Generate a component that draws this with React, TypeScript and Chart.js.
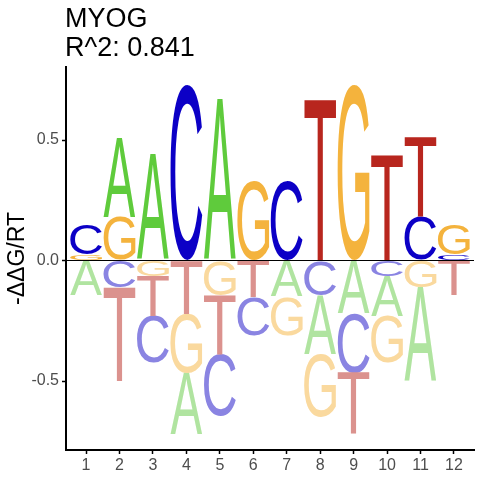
import React, { useEffect, useRef } from 'react';
import { Chart, registerables } from 'chart.js';

Chart.register(...registerables);

// ---------- data ----------
const titleLines = ['MYOG', 'R^2: 0.841'];
const yAxisTitle = '-ΔΔG/RT';
const positions = [1, 2, 3, 4, 5, 6, 7, 8, 9, 10, 11, 12];
const letters = ['A', 'C', 'G', 'T'];
const valuesA = [-0.144, 0.33, 0.44, -0.254, 0.67, 0, -0.15, -0.245, -0.22, -0.163, -0.39, 0];
const valuesC = [0.125, -0.11, -0.194, 0.73, -0.257, -0.16, 0.33, -0.143, -0.247, -0.067, 0.18, 0.025];
const valuesG = [0.025, 0.18, -0.067, -0.247, -0.143, 0.33, -0.16, -0.262, 0.73, -0.194, -0.11, 0.125];
const valuesT = [0, -0.39, -0.163, -0.22, -0.245, -0.15, 0, 0.67, -0.254, 0.44, 0.33, -0.144];
const yTicks = [-0.5, 0, 0.5];

const positiveColors: Record<string, string> = { A: '#5FCB3C', C: '#0C00C6', G: '#F4B33D', T: '#B8261E' };
const negativeColors: Record<string, string> = { A: '#B0E4A0', C: '#8A84E2', G: '#FAD99E', T: '#DB928E' };

const FONT = '"Liberation Sans", Arial, Helvetica, sans-serif';

const valueTable: Record<string, number[]> = { A: valuesA, C: valuesC, G: valuesG, T: valuesT };

// compute stacked letter ranges per position
function buildDatasets() {
  const data: Record<string, { x: number; y: [number, number] }[]> = { A: [], C: [], G: [], T: [] };
  const colors: Record<string, string[]> = { A: [], C: [], G: [], T: [] };
  positions.forEach((p, i) => {
    const entries = letters.map((l) => ({ l, v: valueTable[l][i] }));
    const pos = entries.filter((e) => e.v > 0).sort((a, b) => a.v - b.v);
    const neg = entries.filter((e) => e.v < 0).sort((a, b) => b.v - a.v);
    let acc = 0;
    pos.forEach((e) => {
      data[e.l].push({ x: p, y: [acc, acc + e.v] });
      colors[e.l].push(positiveColors[e.l]);
      acc += e.v;
    });
    acc = 0;
    neg.forEach((e) => {
      data[e.l].push({ x: p, y: [acc + e.v, acc] });
      colors[e.l].push(negativeColors[e.l]);
      acc += e.v;
    });
  });
  return letters.map((l) => ({
    label: l,
    data: data[l],
    glyphColors: colors[l],
    backgroundColor: 'rgba(0,0,0,0)',
    borderWidth: 0,
    grouped: false,
    categoryPercentage: 1,
    barPercentage: 0.95,
  }));
}

function drawGlyph(ctx: CanvasRenderingContext2D, letter: string, color: string, left: number, top: number, w: number, h: number) {
  ctx.save();
  ctx.font = `200px ${FONT}`;
  ctx.textAlign = 'left';
  ctx.textBaseline = 'alphabetic';
  const m = ctx.measureText(letter);
  const gw = m.actualBoundingBoxLeft + m.actualBoundingBoxRight;
  const gh = m.actualBoundingBoxAscent + m.actualBoundingBoxDescent;
  ctx.translate(left, top);
  ctx.scale(w / gw, h / gh);
  ctx.fillStyle = color;
  ctx.fillText(letter, m.actualBoundingBoxLeft, m.actualBoundingBoxAscent);
  ctx.restore();
}

const logoPlugin = {
  id: 'logoGlyphs',
  afterDatasetsDraw(chart: any) {
    const ctx = chart.ctx as CanvasRenderingContext2D;
    chart.data.datasets.forEach((ds: any, di: number) => {
      const meta = chart.getDatasetMeta(di);
      meta.data.forEach((el: any, j: number) => {
        const { x, y, base, width } = el.getProps(['x', 'y', 'base', 'width'], true);
        const top = Math.min(y, base);
        const bottom = Math.max(y, base);
        const h = bottom - top;
        if (h < 0.3) return;
        drawGlyph(ctx, ds.label, ds.glyphColors[j], x - width / 2, top, width, h);
      });
    });
  },
  afterDraw(chart: any) {
    const ctx = chart.ctx as CanvasRenderingContext2D;
    ctx.save();
    ctx.font = `27px ${FONT}`;
    ctx.fillStyle = '#000';
    ctx.textAlign = 'left';
    ctx.textBaseline = 'alphabetic';
    ctx.fillText(titleLines[0], 65, 26.5);
    ctx.fillText(titleLines[1], 65, 56);
    ctx.restore();
  },
};

export default function App() {
  const canvasRef = useRef<HTMLCanvasElement | null>(null);

  useEffect(() => {
    document.body.style.margin = '0';
    const canvas = canvasRef.current;
    if (!canvas) return;
    const chart = new Chart(canvas, {
      type: 'bar',
      data: { datasets: buildDatasets() as any },
      options: {
        animation: false,
        responsive: false,
        devicePixelRatio: 1,
        layout: { padding: { top: 67, right: 6, left: 0, bottom: 0 } },
        plugins: {
          legend: { display: false },
          tooltip: { enabled: false },
          title: { display: false },
        },
        scales: {
          x: {
            type: 'linear',
            min: 0.4,
            max: 12.6,
            offset: false,
            afterBuildTicks: (s: any) => {
              s.ticks = positions.map((v) => ({ value: v }));
            },
            afterFit: (s: any) => {
              s.height = 30;
            },
            grid: {
              offset: false,
              drawOnChartArea: false,
              drawTicks: true,
              tickLength: 4,
              tickColor: '#000',
              tickWidth: 1.5,
            },
            border: { display: true, color: '#000', width: 2 },
            ticks: {
              color: '#4d4d4d',
              font: { family: FONT, size: 16 },
              padding: 2,
              autoSkip: false,
              maxRotation: 0,
              callback: (v: any) => String(v),
            },
          },
          y: {
            type: 'linear',
            min: -0.786,
            max: 0.803,
            afterBuildTicks: (s: any) => {
              s.ticks = yTicks.map((v) => ({ value: v }));
            },
            afterFit: (s: any) => {
              s.width = 66;
            },
            grid: {
              drawOnChartArea: true,
              color: (c: any) => (c.tick && c.tick.value === 0 ? '#000' : 'rgba(0,0,0,0)'),
              lineWidth: 1,
              drawTicks: true,
              tickLength: 4,
              tickColor: '#000',
              tickWidth: 1.5,
              z: 1,
            },
            border: { display: true, color: '#000', width: 2, z: 1 },
            ticks: {
              color: '#4d4d4d',
              font: { family: FONT, size: 16 },
              padding: 3,
              callback: (v: any) => Number(v).toFixed(1),
            },
            title: {
              display: true,
              text: yAxisTitle,
              color: '#000',
              font: { family: FONT, size: 23 },
              padding: { top: 4, bottom: 0 },
            },
          },
        },
      } as any,
      plugins: [logoPlugin],
    });
    return () => chart.destroy();
  }, []);

  return (
    <div style={{ width: 480, height: 480 }}>
      <canvas ref={canvasRef} width={480} height={480} style={{ display: 'block' }} />
    </div>
  );
}
